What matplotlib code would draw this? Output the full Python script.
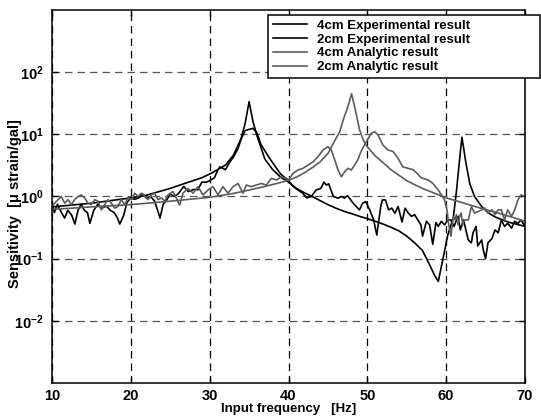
import matplotlib
matplotlib.use("Agg")
import matplotlib.pyplot as plt

# black, noisy
f_exp4 = [10.0, 10.3, 10.7, 11.2, 11.6, 12.0, 12.5, 12.9, 13.3, 13.7, 14.1, 14.5, 14.8, 15.3, 15.8,
          16.3, 16.9, 17.4, 17.9, 18.3, 18.6, 19.1, 19.5, 20.0, 20.5, 21.0, 21.5, 22.0, 22.5, 23.0,
          23.4, 23.7, 24.1, 24.6, 25.0, 25.5, 26.0, 26.7, 27.3, 28.0, 28.5, 29.0, 29.6, 30.0, 30.6,
          31.0, 31.3, 32.0, 32.5, 33.0, 33.6, 34.0, 34.5, 35.0, 35.5, 36.0, 36.5, 37.4, 38.2, 39.0,
          39.9, 40.6, 41.2, 41.8, 42.3, 42.9, 43.5, 44.1, 44.5, 44.8, 45.1, 45.3, 45.7, 46.3, 46.7,
          47.1, 47.5, 48.2, 48.6, 49.0, 49.4, 49.8, 50.3, 50.8, 51.2, 51.7, 51.9, 52.3, 52.7, 53.1,
          53.5, 53.9, 54.4, 54.8, 55.2, 55.6, 56.0, 56.4, 56.8, 57.0, 57.5, 57.9, 58.3, 58.7, 59.0,
          59.4, 59.8, 60.2, 60.6, 61.0, 61.5, 61.8, 62.2, 62.8, 63.2, 63.4, 63.8, 64.0, 64.5, 64.7,
          65.0, 65.3, 65.8, 66.2, 66.6, 67.0, 67.4, 67.8, 68.3, 68.7, 69.1, 69.5, 70.0]
s_exp4 = [0.8, 0.55, 0.75, 0.55, 0.45, 0.6, 0.5, 0.36, 0.6, 0.75, 0.6, 0.55, 0.37, 0.6, 0.75,
          0.65, 0.7, 0.6, 0.55, 0.45, 0.36, 0.5, 0.8, 0.95, 0.9, 0.95, 1.1, 0.95, 1.0, 0.85,
          0.6, 0.45, 0.75, 0.9, 1.1, 1.0, 1.1, 1.45, 1.2, 1.3, 1.28, 1.7, 1.7, 1.8, 2.0,
          2.6, 3.0, 2.7, 3.5, 4.3, 5.9, 8.5, 11.5, 12.0, 12.5, 10.5, 6.9, 4.5, 3.2, 2.3,
          1.85, 1.45, 1.27, 1.13, 0.95, 1.0, 1.27, 1.35, 1.7, 1.53, 1.6, 1.35, 1.0, 0.94, 1.0,
          0.94, 1.03, 0.78, 0.69, 0.61, 0.78, 0.83, 0.61, 0.42, 0.24, 0.69, 0.88, 0.88, 0.61, 0.65,
          0.54, 0.69, 0.39, 0.65, 0.54, 0.48, 0.51, 0.42, 0.35, 0.23, 0.4, 0.35, 0.17, 0.38, 0.33,
          0.4, 0.35, 0.42, 0.42, 0.33, 0.48, 0.29, 0.42, 0.2, 0.18, 0.26, 0.33, 0.16, 0.2, 0.14,
          0.1, 0.18, 0.21, 0.29, 0.26, 0.42, 0.33, 0.37, 0.31, 0.4, 0.37, 0.42, 0.33]

# black, smooth
f_exp2 = [10, 15, 20, 22, 25, 27, 29, 30, 31, 32, 33, 34, 34.5, 35, 35.5, 36, 37, 38, 39, 40,
          41, 42, 43, 44, 45, 46, 47, 48, 49, 50, 51, 52, 53, 54, 55, 56, 57, 58, 58.5, 59,
          59.6, 60.2, 60.9, 61.3, 61.7, 62.0, 62.5, 63.0, 63.6, 64.5, 65.3, 66.2, 67.8, 70]
s_exp2 = [0.68, 0.78, 0.95, 1.05, 1.35, 1.65, 2.0, 2.3, 2.7, 3.2, 4.6, 8.6, 15, 33.5, 16, 9.5, 4.0, 2.7, 2.05, 1.7,
          1.35, 1.15, 1.0, 0.86, 0.74, 0.65, 0.58, 0.53, 0.48, 0.44, 0.4, 0.36, 0.32, 0.28, 0.23, 0.18, 0.135, 0.075, 0.055, 0.043,
          0.1, 0.24, 0.45, 1.2, 3.9, 9.0, 3.5, 1.6, 1.0, 0.69, 0.55, 0.47, 0.39, 0.33]

# gray, smooth
f_ana4 = [10, 15, 20, 25, 30, 33, 35, 37, 39, 40, 41, 42, 43, 44, 45, 46, 46.5, 47, 47.5, 48,
          48.5, 49, 49.5, 50, 51, 52, 53, 54, 55, 56, 57, 58, 59, 60, 62, 64, 66, 68, 70]
s_ana4 = [0.62, 0.68, 0.74, 0.84, 0.97, 1.12, 1.27, 1.45, 1.68, 1.82, 2.05, 2.4, 2.9, 3.6, 4.9, 8.5, 11, 18, 27, 45,
          24, 12, 8.0, 6.3, 4.5, 3.5, 2.7, 2.2, 1.8, 1.55, 1.35, 1.2, 1.07, 0.95, 0.8, 0.67, 0.57, 0.48, 0.4]

# gray, noisy
f_ana2 = [10.0, 10.34, 10.76, 11.18, 11.61, 12.03, 12.45, 12.88, 13.3, 13.72, 14.14, 14.57, 14.99, 15.41, 15.83,
          16.26, 16.68, 17.1, 17.53, 17.95, 18.37, 18.8, 19.22, 19.64, 20.06, 20.49, 20.91, 21.33, 21.76, 22.18,
          22.6, 23.02, 23.45, 23.87, 24.29, 24.71, 25.35, 25.77, 26.2, 26.62, 27.25, 27.89, 28.52, 29.15, 29.79,
          30.42, 31.06, 31.69, 32.33, 32.96, 33.6, 34.23, 34.65, 35.28, 35.92, 36.55, 37.19, 37.82, 38.46, 39.09,
          39.73, 40.0, 40.57, 41.2, 41.84, 42.48, 43.11, 43.75, 44.38, 45.0, 45.44, 45.86, 46.28, 46.7, 47.13,
          47.55, 47.97, 48.4, 48.8, 49.2, 49.87, 50.5, 50.93, 51.35, 51.99, 52.6, 53.26, 53.9, 54.5, 55.15,
          55.8, 56.4, 56.8, 57.7, 58.3, 59.0, 59.4, 59.8, 60.1, 60.3, 60.6, 60.9, 61.1, 61.3, 61.5,
          61.7, 61.9, 62.1, 62.3, 62.8, 63.2, 63.6, 64.0, 64.5, 64.9, 65.3, 65.8, 66.2, 66.6, 67.0,
          67.4, 67.8, 68.3, 68.7, 69.1, 69.5, 70.0]
s_ana2 = [0.7, 0.78, 0.89, 1.0, 0.78, 0.89, 0.74, 0.89, 1.0, 1.06, 0.95, 0.78, 0.74, 0.89, 0.84,
          0.61, 0.74, 0.89, 0.78, 0.65, 0.69, 0.89, 0.74, 0.95, 0.89, 1.13, 1.0, 1.13, 1.0, 0.89,
          1.06, 1.13, 0.89, 0.95, 0.84, 1.06, 1.2, 0.94, 0.73, 1.13, 1.35, 1.13, 1.44, 1.06, 1.27,
          1.44, 1.06, 1.44, 1.13, 1.44, 1.62, 1.13, 1.53, 1.44, 1.53, 1.62, 1.53, 1.96, 1.84, 2.08,
          1.96, 1.85, 2.36, 2.67, 2.84, 3.2, 3.6, 4.4, 5.6, 6.3, 5.6, 3.9, 2.67, 2.08, 2.5,
          2.84, 2.67, 3.2, 3.9, 5.3, 7.6, 10.4, 11.0, 9.8, 6.7, 5.6, 5.3, 4.1, 3.0, 2.84,
          2.7, 2.3, 2.0, 1.85, 1.63, 1.27, 1.06, 0.88, 0.61, 0.37, 0.23, 0.48, 0.42, 0.51, 0.35,
          0.48, 0.54, 0.35, 0.42, 0.42, 0.69, 0.54, 0.57, 0.61, 0.65, 0.54, 0.61, 0.51, 0.61, 0.61,
          0.42, 0.61, 0.48, 0.61, 0.88, 1.06, 1.0]

labels = ["4cm Experimental result", "2cm Experimental result",
          "4cm Analytic result", "2cm Analytic result"]
x_ticks = [10, 20, 30, 40, 50, 60, 70]
y_ticks = [1e-2, 1e-1, 1e0, 1e1, 1e2]
y_ticklabels = [r"$\mathbf{10^{-2}}$", r"$\mathbf{10^{-1}}$", r"$\mathbf{10^{0}}$",
                r"$\mathbf{10^{1}}$", r"$\mathbf{10^{2}}$"]

plt.rcParams["font.family"] = ["Liberation Sans", "DejaVu Sans"]
plt.rcParams["font.weight"] = "bold"
plt.rcParams["mathtext.fontset"] = "custom"
plt.rcParams["mathtext.bf"] = "Liberation Sans:bold"
plt.rcParams["mathtext.rm"] = "Liberation Sans:bold"

fig = plt.figure(figsize=(5.41, 4.19), dpi=100)
ax = fig.add_axes([52 / 541, 1 - 383 / 419, 473 / 541, 373 / 419])

gray = "#5c5c5c"
ax.plot(f_exp4, s_exp4, color="black", lw=1.2, label=labels[0])
ax.plot(f_exp2, s_exp2, color="black", lw=1.2, label=labels[1])
ax.plot(f_ana4, s_ana4, color=gray, lw=1.2, label=labels[2])
ax.plot(f_ana2, s_ana2, color=gray, lw=1.2, label=labels[3])

ax.set_yscale("log")
ax.set_xlim(10, 70)
ax.set_ylim(1e-3, 1e3)
ax.set_xticks(x_ticks)
ax.set_xticklabels([str(t) for t in x_ticks], fontsize=10.5, fontweight="bold")
ax.set_yticks(y_ticks)
ax.set_yticklabels(y_ticklabels, fontsize=10.5)
ax.minorticks_off()
ax.tick_params(direction="in", top=True, right=True, length=4, width=1)
ax.tick_params(axis="x", pad=4)
ax.tick_params(axis="y", pad=6)

ax.xaxis.grid(True, color="black", ls=(0, (6, 4)), lw=0.9)
ax.yaxis.grid(True, color="#555555", ls=(0, (6, 4)), lw=0.9)
for sp in ax.spines.values():
    sp.set_linewidth(1.1)

ax.set_xlabel("Input frequency   [Hz]", fontsize=9.5, fontweight="bold")
ax.xaxis.set_label_coords(0.5, -0.054)
ax.set_ylabel("Sensitivity  [\u03bc strain/gal]", fontsize=10.5, fontweight="bold")
ax.yaxis.set_label_coords(-0.064, 0.48)

# MATLAB-style legend box, wider than its text
leg = ax.legend(loc="upper left", bbox_to_anchor=(0.4567, 0.5, 0.575, 0.4866), mode="expand",
                borderaxespad=0, fancybox=False, framealpha=1, edgecolor="black",
                handlelength=2.6, handletextpad=0.8, labelspacing=0.12,
                borderpad=0.35, prop={"weight": "bold", "size": 9.5})
leg.get_frame().set_linewidth(1.1)

fig.savefig("out.png", dpi=100)
